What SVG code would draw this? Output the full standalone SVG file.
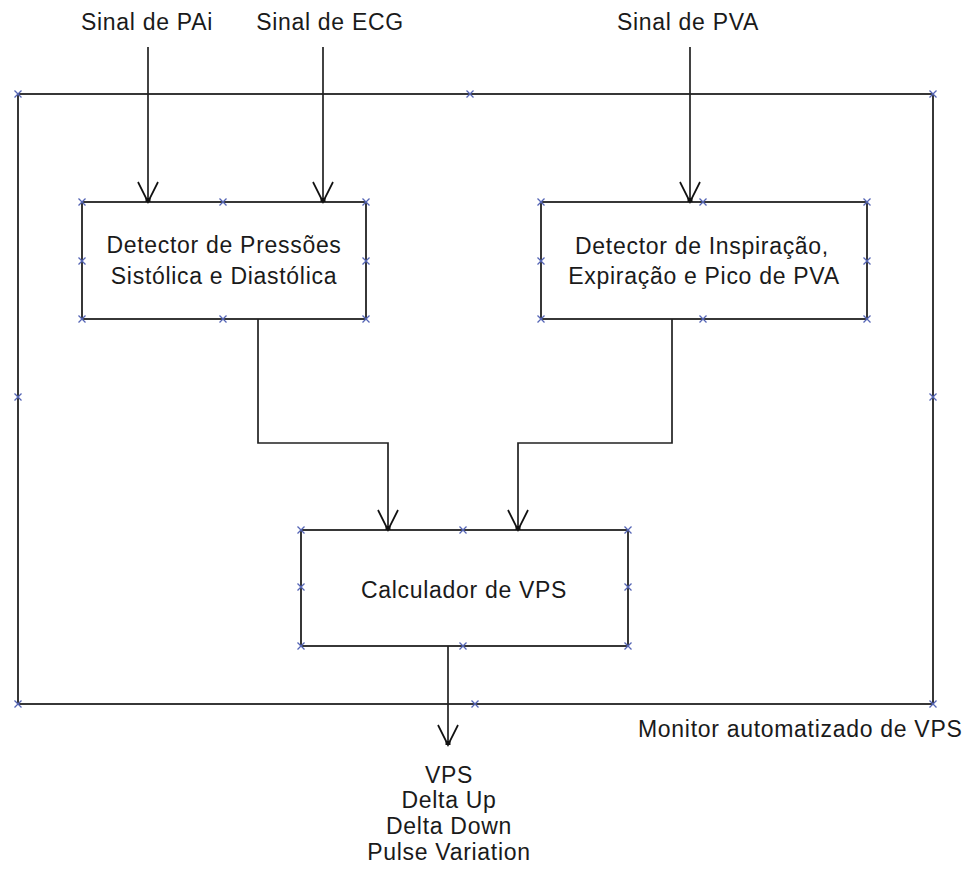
<svg xmlns="http://www.w3.org/2000/svg" xmlns:xlink="http://www.w3.org/1999/xlink" width="967" height="880" viewBox="0 0 967 880">
<style>
  .box { fill: none; stroke: #222; stroke-width: 1.8; }
  .conn { fill: none; stroke: #222; stroke-width: 1.7; }
  .t { font-family: "Liberation Sans", Arial, sans-serif; font-size: 23px; fill: #1a1a1a; letter-spacing: 0.7px; text-anchor: middle; }
  .tl { font-family: "Liberation Sans", Arial, sans-serif; font-size: 23px; fill: #1a1a1a; letter-spacing: 0.7px; text-anchor: start; }
  .xm { fill: none; stroke: #5565b5; stroke-width: 1.3; }
</style>
<defs>
  <marker id="arr" markerUnits="userSpaceOnUse" orient="auto" markerWidth="40" markerHeight="40" refX="0" refY="0" overflow="visible">
    <path d="M -20 -10 L 0 0 L -20 10" fill="none" stroke="#111" stroke-width="1.7"/>
    <rect x="-4" y="-2.5" width="4" height="5" fill="#111"/>
  </marker>
  <path id="x" class="xm" d="M -3.5 -3.5 L 3.5 3.5 M -3.5 3.5 L 3.5 -3.5"/>
</defs>
<rect width="967" height="880" fill="#fff"/>

<g id="monitor">
  <rect class="box" x="18" y="94" width="915" height="610"/>
  <use xlink:href="#x" x="18" y="94"/><use xlink:href="#x" x="470" y="94"/><use xlink:href="#x" x="933" y="94"/>
  <use xlink:href="#x" x="18" y="397"/><use xlink:href="#x" x="933" y="397"/>
  <use xlink:href="#x" x="18" y="704"/><use xlink:href="#x" x="475" y="704"/><use xlink:href="#x" x="933" y="704"/>
  <text class="tl" x="638" y="737">Monitor automatizado de VPS</text>
</g>

<g id="detector-pressoes">
  <rect class="box" x="82" y="202" width="284" height="117"/>
  <use xlink:href="#x" x="82" y="202"/><use xlink:href="#x" x="223" y="202"/><use xlink:href="#x" x="366" y="202"/>
  <use xlink:href="#x" x="82" y="261"/><use xlink:href="#x" x="366" y="261"/>
  <use xlink:href="#x" x="82" y="319"/><use xlink:href="#x" x="223" y="319"/><use xlink:href="#x" x="366" y="319"/>
  <text class="t" x="224" y="253">Detector de Pressões</text>
  <text class="t" x="224" y="284">Sistólica e Diastólica</text>
</g>

<g id="detector-inspiracao">
  <rect class="box" x="541" y="202" width="326" height="117"/>
  <use xlink:href="#x" x="541" y="202"/><use xlink:href="#x" x="703" y="202"/><use xlink:href="#x" x="867" y="202"/>
  <use xlink:href="#x" x="541" y="261"/><use xlink:href="#x" x="867" y="261"/>
  <use xlink:href="#x" x="541" y="319"/><use xlink:href="#x" x="703" y="319"/><use xlink:href="#x" x="867" y="319"/>
  <text class="t" x="702" y="254">Detector de Inspiração,</text>
  <text class="t" x="704" y="284">Expiração e Pico de PVA</text>
</g>

<g id="calculador">
  <rect class="box" x="301" y="530" width="327" height="116"/>
  <use xlink:href="#x" x="301" y="530"/><use xlink:href="#x" x="463" y="530"/><use xlink:href="#x" x="628" y="530"/>
  <use xlink:href="#x" x="301" y="587"/><use xlink:href="#x" x="628" y="587"/>
  <use xlink:href="#x" x="301" y="646"/><use xlink:href="#x" x="463" y="646"/><use xlink:href="#x" x="628" y="646"/>
  <text class="t" x="464" y="598">Calculador de VPS</text>
</g>

<g id="labels">
  <text class="t" x="147" y="30">Sinal de PAi</text>
  <text class="t" x="330" y="30">Sinal de ECG</text>
  <text class="t" x="688" y="30">Sinal de PVA</text>
  <text class="t" x="449" y="783">VPS</text>
  <text class="t" x="449" y="808">Delta Up</text>
  <text class="t" x="449" y="834">Delta Down</text>
  <text class="t" x="449" y="860">Pulse Variation</text>
</g>

<g id="connectors">
  <path class="conn" d="M 148 47 L 148 202" marker-end="url(#arr)"/>
  <path class="conn" d="M 323 47 L 323 202" marker-end="url(#arr)"/>
  <path class="conn" d="M 690 47 L 690 202" marker-end="url(#arr)"/>
  <path class="conn" d="M 258 319 L 258 443 L 388 443 L 388 530" marker-end="url(#arr)"/>
  <path class="conn" d="M 672 319 L 672 443 L 518 443 L 518 530" marker-end="url(#arr)"/>
  <path class="conn" d="M 448 646 L 448 745" marker-end="url(#arr)"/>
</g>
</svg>
